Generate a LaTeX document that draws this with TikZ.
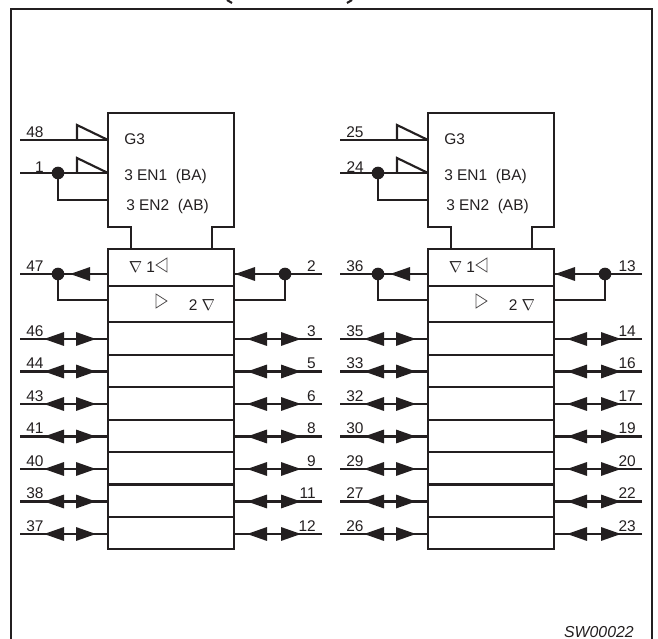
\documentclass[tikz,border=0pt]{standalone}
\usepackage{fontspec}
\setmainfont{Liberation Sans}
\usetikzlibrary{arrows.meta}
\definecolor{ink}{HTML}{231F20}

\begin{document}
\begin{tikzpicture}[x=0.75pt,y=-0.75pt,line join=miter,
  wire/.style={draw=ink,line width=1.6pt},
  rowbox/.style={draw=ink,line width=1.6pt,minimum width=94.5pt,inner sep=0pt,outer sep=0pt,anchor=north west},
  jdot/.style={circle,fill=ink,minimum size=9.5pt,inner sep=0pt,outer sep=0pt},
  txt/.style={text=ink,inner sep=0pt,font=\fontsize{11.6}{12}\selectfont},
  onehead/.style={draw=ink,line width=1.6pt,-{Triangle[length=15pt,width=10pt]}},
  twohead/.style={draw=ink,line width=1.6pt,{Triangle[length=15pt,width=10pt]}-{Triangle[length=15pt,width=10pt]}},
  thin mark/.style={draw=ink!80,line width=0.6pt}]
\useasboundingbox (0,0) rectangle (658,639);
% frame, with what is left of the heading
\draw[wire] (11,639) -- (11,9) -- (652,9) -- (652,639);
\draw[wire] (227,0) -- (232,3);
\draw[wire] (352,0) -- (347,3);
\foreach \b/\dx/\pg/\pen/\po/\pi/\rows in {
  A/0/48/1/47/2/{46/3,44/5,43/6,41/8,40/9,38/11,37/12},
  B/320/25/24/36/13/{35/14,33/16,32/17,30/19,29/20,27/22,26/23}}
{
\begin{scope}[shift={(\dx,0)}]
  % control part
  \draw[wire] (108,113) -- (234,113) -- (234,227) -- (212,227) -- (212,249)
    -- (131,249) -- (131,227) -- (108,227) -- cycle;
  \node[txt,anchor=base west] (g\b) at (124,144.7) {G3};
  \node[txt,anchor=base west] (enone\b) at (124,180) {3 EN1\ \ (BA)};
  \node[txt,anchor=base west] (entwo\b) at (126,210) {3 EN2\ \ (AB)};
  \coordinate (ing\b) at (20,140);
  \coordinate (outg\b) at (108,140);
  \coordinate (inen\b) at (20,173);
  \coordinate (outen\b) at (108,173);
  \coordinate (backen\b) at (108,200);
  \node[jdot] (dot\b) at (58,173) {};
  \draw[wire] (ing\b) -- (outg\b);
  \draw[wire] (inen\b) -- (dot\b) -- (outen\b);
  \draw[wire] (dot\b) |- (backen\b);
  \draw[wire] (77,140) -- (77,125) -- (outg\b);
  \draw[wire] (77,173) -- (77,158) -- (outen\b);
  \node[txt,anchor=base west] (lg\b) at (26,137.5) {\pg};
  \node[txt,anchor=base east] (len\b) at (44,172) {\pen};
  % direction rows
  \node[rowbox,minimum height=27.75pt] (top\b) at (108,249) {};
  \node[rowbox,minimum height=27pt] (low\b) at (108,286) {};
  \node[txt,anchor=base west] (tl\b) at (128.5,272) {$\nabla$ 1};
  \node[txt,anchor=base west] (tr\b) at (188.5,310) {2 $\nabla$};
  \draw[thin mark] (167,258) -- (156,265) -- (167,272) -- cycle;
  \draw[thin mark] (156,294) -- (167,301) -- (156,308) -- cycle;
  \coordinate (outo\b) at (20,274);
  \coordinate (heado\b) at (90,274);
  \coordinate (tipo\b) at (70,274);
  \coordinate (ini\b) at (322,274);
  \coordinate (headi\b) at (255,274);
  \coordinate (tipi\b) at (235,274);
  \coordinate (backl\b) at (108,300);
  \coordinate (backr\b) at (234,300);
  \node[jdot] (doto\b) at (58,274) {};
  \node[jdot] (doti\b) at (285,274) {};
  \draw[wire] (outo\b) -- (doto\b) -- (outo\b -| top\b.west);
  \draw[wire] (ini\b) -- (doti\b) -- (ini\b -| top\b.east);
  \draw[wire] (doto\b) |- (backl\b);
  \draw[wire] (doti\b) |- (backr\b);
  \draw[onehead] (heado\b) -- (tipo\b);
  \draw[onehead] (headi\b) -- (tipi\b);
  \node[txt,anchor=base west] (lo\b) at (26,271) {\po};
  \node[txt,anchor=base east] (li\b) at (316,271) {\pi};
  % data rows
  \foreach \l/\r [count=\i] in \rows {
    \pgfmathsetmacro{\rowy}{322.3+32.43*(\i-1)}
    \pgfmathsetmacro{\piny}{339+32.5*(\i-1)}
    \node[rowbox,minimum height=24.32pt] (row\b\i) at (108,\rowy) {};
    \coordinate (la\b\i) at (20,\piny);
    \coordinate (ra\b\i) at (322,\piny);
    \coordinate (lt\b\i) at (44,\piny);
    \coordinate (lh\b\i) at (96,\piny);
    \coordinate (rt\b\i) at (247,\piny);
    \coordinate (rh\b\i) at (301,\piny);
    \draw[wire] (la\b\i) -- (la\b\i -| row\b\i.west);
    \draw[wire] (ra\b\i) -- (ra\b\i -| row\b\i.east);
    \draw[twohead] (lt\b\i) -- (lh\b\i);
    \draw[twohead] (rt\b\i) -- (rh\b\i);
    \node[txt,anchor=base west] (nl\b\i) at (26,\piny-3) {\l};
    \node[txt,anchor=base east] (nr\b\i) at (316,\piny-3) {\r};
  }
\end{scope}
}
\node[txt,anchor=base east,font=\fontsize{11.9}{12}\selectfont\itshape] (code) at (634,637.5) {SW00022};
\end{tikzpicture}
\end{document}
